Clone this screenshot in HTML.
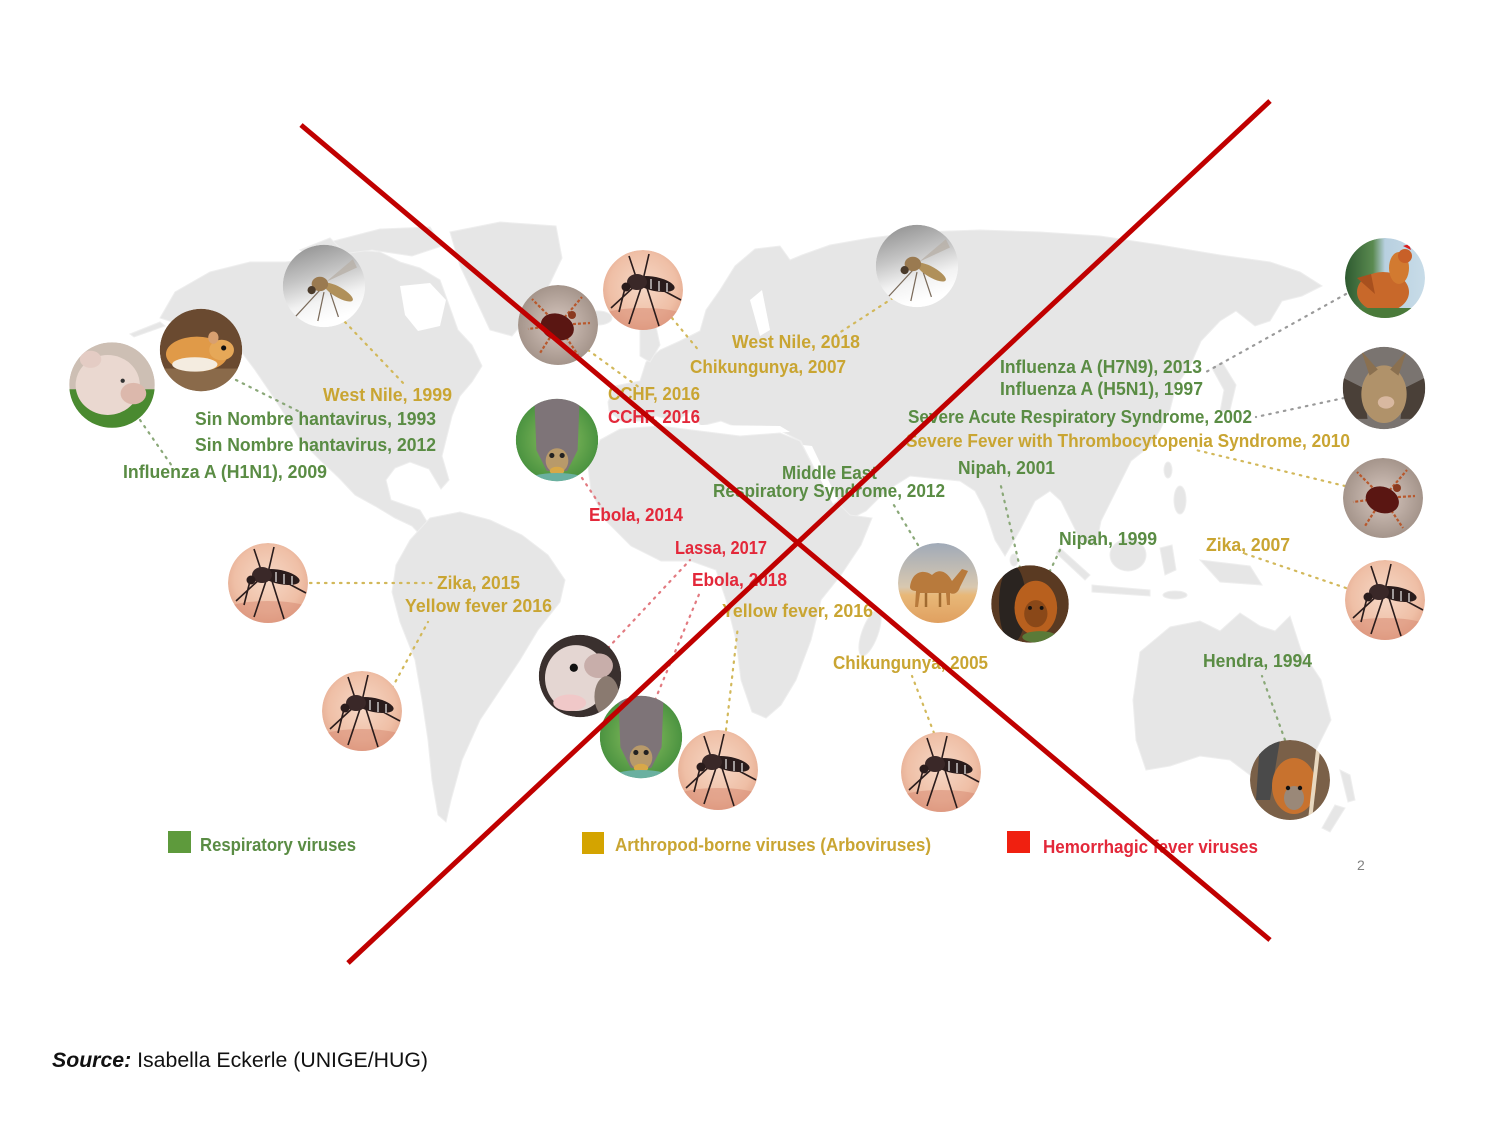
<!DOCTYPE html>
<html>
<head>
<meta charset="utf-8">
<style>
html,body{margin:0;padding:0;background:#fff;}
body{width:1500px;height:1125px;overflow:hidden;}
svg{display:block;}
.t{font-family:"Liberation Sans",sans-serif;font-weight:bold;font-size:18px;}
.g{fill:#5a8c44;}
.y{fill:#c9a532;}
.r{fill:#e3283a;}
.land{fill:#e6e6e6;stroke:#eeeeee;stroke-width:1;}
.dg{stroke:#8aa878;stroke-width:2.2;stroke-dasharray:1.5 6;stroke-linecap:round;fill:none;}
.dy{stroke:#d2b85a;stroke-width:2.2;stroke-dasharray:1.5 6;stroke-linecap:round;fill:none;}
.dr{stroke:#e27a80;stroke-width:2.2;stroke-dasharray:1.5 6;stroke-linecap:round;fill:none;}
.dk{stroke:#9a9a9a;stroke-width:2.2;stroke-dasharray:1.5 6;stroke-linecap:round;fill:none;}
</style>
</head>
<body>
<svg width="1500" height="1125" viewBox="0 0 1500 1125" xmlns="http://www.w3.org/2000/svg">
<defs>
  <clipPath id="c40" clipPathUnits="userSpaceOnUse"><circle cx="0" cy="0" r="40"/></clipPath>
  <radialGradient id="peach" cx="0.5" cy="0.45" r="0.6">
    <stop offset="0" stop-color="#f6d8c6"/>
    <stop offset="0.7" stop-color="#efbfa6"/>
    <stop offset="1" stop-color="#e2a48a"/>
  </radialGradient>
  <linearGradient id="greyTop" x1="0" y1="0" x2="0.3" y2="1">
    <stop offset="0" stop-color="#8a8a8a"/>
    <stop offset="0.45" stop-color="#c4c4c4"/>
    <stop offset="0.75" stop-color="#f2f2f2"/>
    <stop offset="1" stop-color="#ffffff"/>
  </linearGradient>
  <radialGradient id="tickbg" cx="0.5" cy="0.5" r="0.6">
    <stop offset="0" stop-color="#d8c8c0"/>
    <stop offset="1" stop-color="#9a8a80"/>
  </radialGradient>
  <radialGradient id="greenbg" cx="0.5" cy="0.5" r="0.6">
    <stop offset="0" stop-color="#8cc060"/>
    <stop offset="1" stop-color="#3e8a3a"/>
  </radialGradient>
  <linearGradient id="camelbg" x1="0" y1="0" x2="0" y2="1">
    <stop offset="0" stop-color="#a0aab8"/>
    <stop offset="0.55" stop-color="#d8c8b0"/>
    <stop offset="0.65" stop-color="#e8b878"/>
    <stop offset="1" stop-color="#e0a060"/>
  </linearGradient>
  <linearGradient id="chickbg" x1="0" y1="0" x2="1" y2="0">
    <stop offset="0" stop-color="#2e5a30"/>
    <stop offset="0.35" stop-color="#5a8a50"/>
    <stop offset="0.5" stop-color="#b8d0e0"/>
    <stop offset="1" stop-color="#c8dce8"/>
  </linearGradient>
  <g id="mosq">
    <circle r="40" fill="url(#peach)"/>
    <ellipse cx="0" cy="30" rx="48" ry="12" fill="#d88c74" opacity="0.55"/>
    <g stroke="#2a1c1c" stroke-width="1.6" fill="none">
      <line x1="-6" y1="-6" x2="-32" y2="18"/>
      <line x1="-2" y1="-2" x2="-14" y2="34"/>
      <line x1="4" y1="-2" x2="16" y2="36"/>
      <line x1="-6" y1="-10" x2="-14" y2="-34"/>
      <line x1="0" y1="-10" x2="6" y2="-36"/>
      <line x1="8" y1="-6" x2="38" y2="10"/>
      <line x1="-18" y1="-2" x2="-24" y2="22"/>
    </g>
    <ellipse cx="12" cy="-6" rx="20" ry="7" transform="rotate(12 12 -6)" fill="#2a1c1c"/>
    <ellipse cx="-6" cy="-8" rx="10" ry="8" fill="#3a2828"/>
    <circle cx="-17" cy="-3" r="4.5" fill="#2a1c1c"/>
    <g stroke="#eee" stroke-width="1.2"><line x1="8" y1="-11" x2="8" y2="-1"/><line x1="16" y1="-9" x2="16" y2="1"/><line x1="24" y1="-7" x2="24" y2="2"/></g>
  </g>
  <g id="gmosq">
    <circle r="40" fill="url(#greyTop)"/>
    <g stroke="#7a6a5a" stroke-width="1.2" fill="none">
      <line x1="-4" y1="4" x2="-28" y2="30"/>
      <line x1="0" y1="6" x2="-6" y2="34"/>
      <line x1="6" y1="6" x2="14" y2="30"/>
    </g>
    <path d="M2,-4 L28,-26 L32,-18 Z" fill="#b8b0a8" opacity="0.8"/>
    <ellipse cx="14" cy="6" rx="16" ry="5" transform="rotate(30 14 6)" fill="#b0905a"/>
    <ellipse cx="-4" cy="-2" rx="8" ry="7" fill="#9a7a50"/>
    <circle cx="-12" cy="4" r="4" fill="#4a3a2a"/>
  </g>
  <g id="tick">
    <circle r="40" fill="url(#tickbg)"/>
    <g stroke="#b8582c" stroke-width="2.2" stroke-dasharray="3 2">
      <line x1="0" y1="0" x2="-26" y2="-26"/>
      <line x1="0" y1="0" x2="-30" y2="4"/>
      <line x1="0" y1="0" x2="-18" y2="28"/>
      <line x1="0" y1="0" x2="24" y2="-28"/>
      <line x1="0" y1="0" x2="32" y2="-2"/>
      <line x1="0" y1="0" x2="20" y2="30"/>
    </g>
    <ellipse cx="0" cy="2" rx="17" ry="13" transform="rotate(20)" fill="#5a1612"/>
    <circle cx="14" cy="-10" r="4" fill="#8a3a20"/>
  </g>
  <g id="batg">
    <circle r="40" fill="url(#greenbg)"/>
    <path d="M-22,-40 L22,-40 L20,10 L10,30 L-10,30 L-20,10 Z" fill="#7e7478"/>
    <ellipse cx="0" cy="20" rx="11" ry="12" fill="#b89a6a"/>
    <ellipse cx="0" cy="30" rx="7" ry="4" fill="#d8a848"/>
    <circle cx="-5" cy="15" r="2.5" fill="#222"/><circle cx="5" cy="15" r="2.5" fill="#222"/>
    <ellipse cx="0" cy="40" rx="30" ry="8" fill="#6ab0a0"/>
  </g>
  <g id="fbat">
    <circle r="40" fill="#5a3a22"/>
    <ellipse cx="-18" cy="0" rx="14" ry="40" fill="#2a2420"/>
    <ellipse cx="6" cy="4" rx="22" ry="28" fill="#b8601e"/>
    <ellipse cx="6" cy="10" rx="12" ry="14" fill="#8a4818"/>
    <circle cx="0" cy="4" r="2" fill="#111"/><circle cx="12" cy="4" r="2" fill="#111"/>
    <ellipse cx="10" cy="34" rx="18" ry="6" fill="#5a7a38"/>
  </g>
</defs>

<!-- ===== WORLD MAP ===== -->
<g class="land">
  <path d="M160,318 L175,292 L210,272 L250,262 L285,262 L320,258 L350,250 L380,252 L400,262 L420,268 L440,280 L448,302 L458,330 L472,345 L482,366 L472,382 L460,396 L452,416 L446,440 L442,456 L449,480 L441,489 L429,469 L410,462 L395,468 L386,480 L391,500 L405,505 L420,510 L429,525 L436,536 L426,541 L412,526 L395,518 L375,506 L355,495 L339,478 L320,460 L300,440 L285,415 L270,392 L255,370 L240,350 L225,336 L205,331 L185,326 Z"/>
  <path d="M130,334 L160,322 L165,326 L134,337 Z"/>
  <path d="M330,242 L380,229 L430,227 L442,246 L412,256 L372,250 L342,254 Z"/>
  <path d="M300,250 L330,238 L340,248 L310,256 Z"/>
  <path d="M450,232 L500,222 L556,226 L562,258 L542,300 L512,336 L490,330 L476,300 L460,266 Z"/>
  <ellipse cx="598" cy="318" rx="14" ry="7"/>
  <path d="M430,518 L460,512 L490,520 L522,535 L548,555 L565,580 L560,602 L538,630 L520,660 L500,690 L480,720 L462,760 L451,800 L446,822 L438,815 L432,780 L428,740 L422,700 L415,660 L400,622 L392,592 L396,565 L410,540 Z"/>
  <path d="M608,402 L615,386 L640,381 L646,362 L660,350 L680,341 L700,331 L706,310 L720,290 L735,266 L755,249 L780,246 L790,260 L802,255 L830,245 L870,238 L920,232 L980,230 L1040,232 L1100,236 L1160,245 L1220,255 L1270,262 L1300,272 L1322,286 L1302,296 L1282,301 L1270,321 L1255,326 L1236,311 L1220,321 L1201,341 L1190,366 L1176,386 L1170,410 L1160,430 L1150,446 L1131,461 L1121,481 L1111,501 L1101,521 L1096,546 L1081,541 L1071,521 L1061,501 L1050,491 L1035,501 L1020,530 L1005,556 L995,540 L985,510 L975,491 L960,481 L940,479 L910,476 L886,491 L866,511 L846,521 L826,491 L811,461 L801,441 L781,431 L761,426 L741,429 L721,421 L701,426 L691,411 L676,421 L656,416 L640,421 L621,421 L609,411 Z"/>
  <path d="M640,330 L655,322 L660,345 L650,362 L640,356 Z"/>
  <path d="M1212,368 L1222,362 L1236,385 L1230,410 L1220,412 L1224,390 Z"/>
  <ellipse cx="1014" cy="560" rx="4" ry="6"/>
  <ellipse cx="1168" cy="470" rx="4" ry="8"/>
  <ellipse cx="1180" cy="500" rx="6" ry="14"/>
  <path d="M600,440 L620,429 L660,426 L700,431 L740,436 L780,433 L800,441 L815,470 L830,495 L850,515 L872,518 L861,545 L841,575 L821,600 L811,640 L796,680 L781,705 L766,718 L752,712 L741,680 L736,640 L726,600 L716,570 L691,561 L661,561 L631,546 L606,521 L591,491 L588,466 Z"/>
  <ellipse cx="870" cy="633" rx="8" ry="24" transform="rotate(20 870 633)"/>
  <path d="M1060,548 L1090,575 L1085,580 L1056,553 Z"/>
  <path d="M1092,585 L1150,590 L1150,596 L1092,592 Z"/>
  <ellipse cx="1128" cy="555" rx="18" ry="16"/>
  <path d="M1160,548 L1172,545 L1176,570 L1165,575 Z"/>
  <path d="M1200,560 L1250,566 L1262,585 L1220,582 Z"/>
  <ellipse cx="1175" cy="595" rx="12" ry="4"/>
  <path d="M1140,652 L1170,627 L1200,621 L1220,631 L1240,613 L1260,626 L1275,631 L1290,616 L1301,650 L1321,680 L1331,720 L1311,760 L1286,780 L1250,775 L1230,760 L1200,756 L1170,766 L1146,770 L1136,740 L1133,700 Z"/>
  <ellipse cx="1287" cy="798" rx="9" ry="7"/>
  <path d="M1340,770 L1350,775 L1355,800 L1348,802 Z"/>
  <path d="M1335,805 L1345,808 L1330,832 L1322,828 Z"/>
</g>
<g fill="#ffffff">
  <path d="M400,286 L430,283 L446,300 L440,326 L418,331 L405,315 Z"/>
  <path d="M630,424 L780,426 L790,432 L740,434 L700,428 L660,424 Z"/>
  <path d="M803,445 L812,446 L838,500 L833,504 Z"/>
  <path d="M750,300 L762,290 L770,330 L760,336 Z"/>
</g>

<!-- ===== DOTTED CONNECTORS ===== -->
<path class="dy" d="M345,322 L405,385"/>
<path class="dg" d="M236,380 L300,412"/>
<path class="dg" d="M140,420 L172,466"/>
<path class="dy" d="M588,350 L640,388"/>
<path class="dy" d="M672,318 L700,352"/>
<path class="dy" d="M893,298 L836,335"/>
<path class="dk" d="M1346,294 L1206,372"/>
<path class="dk" d="M1344,398 L1256,417"/>
<path class="dy" d="M1345,486 L1196,450"/>
<path class="dy" d="M1346,588 L1240,552"/>
<path class="dy" d="M310,583 L432,583"/>
<path class="dy" d="M392,688 L428,622"/>
<path class="dr" d="M608,648 L690,560"/>
<path class="dr" d="M655,700 L700,592"/>
<path class="dy" d="M726,730 L738,626"/>
<path class="dr" d="M582,478 L600,505"/>
<path class="dg" d="M918,545 L892,502"/>
<path class="dg" d="M1020,568 L1000,482"/>
<path class="dy" d="M934,733 L912,676"/>
<path class="dg" d="M1285,740 L1262,676"/>
<path class="dg" d="M1060,550 L1048,575"/>

<!-- ===== PHOTO CIRCLES ===== -->
<g transform="translate(112,385) scale(1.07)" clip-path="url(#c40)">
  <circle r="40" fill="#cdbfb4"/>
  <rect x="-40" y="4" width="80" height="40" fill="#4a8a30"/>
  <ellipse cx="-4" cy="0" rx="30" ry="28" fill="#ead8d0"/>
  <ellipse cx="20" cy="8" rx="12" ry="10" fill="#dcb8ac"/>
  <circle cx="10" cy="-4" r="2" fill="#333"/>
  <ellipse cx="-20" cy="-24" rx="10" ry="8" fill="#e4ccc4"/>
</g>
<g transform="translate(201,350) scale(1.03)" clip-path="url(#c40)">
  <circle r="40" fill="#6a4a30"/>
  <rect x="-40" y="18" width="80" height="30" fill="#8a6a4a"/>
  <ellipse cx="-4" cy="4" rx="30" ry="17" fill="#e09a48"/>
  <ellipse cx="-6" cy="14" rx="22" ry="7" fill="#f4ece0"/>
  <ellipse cx="20" cy="0" rx="12" ry="10" fill="#e6a858"/>
  <circle cx="22" cy="-2" r="2.5" fill="#111"/>
  <ellipse cx="12" cy="-12" rx="5" ry="6" fill="#d8a070"/>
</g>
<g transform="translate(324,286) scale(1.03)" clip-path="url(#c40)"><use href="#gmosq"/></g>
<g transform="translate(558,325)" clip-path="url(#c40)"><use href="#tick"/></g>
<g transform="translate(643,290)" clip-path="url(#c40)"><use href="#mosq"/></g>
<g transform="translate(557,440) scale(1.03)" clip-path="url(#c40)"><use href="#batg"/></g>
<g transform="translate(917,266) scale(1.03)" clip-path="url(#c40)"><use href="#gmosq"/></g>
<g transform="translate(1385,278)" clip-path="url(#c40)">
  <circle r="40" fill="url(#chickbg)"/>
  <ellipse cx="-2" cy="14" rx="26" ry="20" fill="#c8682a"/>
  <ellipse cx="14" cy="-10" rx="10" ry="16" fill="#d27a30"/>
  <circle cx="20" cy="-22" r="7" fill="#c86028"/>
  <path d="M18,-32 L24,-34 L26,-28 Z" fill="#d82020"/>
  <path d="M-28,0 L-14,-4 L-10,16 Z" fill="#a8501e"/>
  <rect x="-40" y="30" width="80" height="12" fill="#4a7a3a"/>
</g>
<g transform="translate(1384,388) scale(1.03)" clip-path="url(#c40)">
  <circle r="40" fill="#7a7470"/>
  <path d="M-40,-10 L-20,0 L-16,30 L-40,30 Z" fill="#4a4038"/>
  <path d="M40,-10 L20,0 L16,30 L40,30 Z" fill="#4a4038"/>
  <ellipse cx="0" cy="6" rx="22" ry="28" fill="#b0926a"/>
  <path d="M-14,-12 L-22,-36 L-6,-18 Z" fill="#8a7050"/>
  <path d="M14,-12 L22,-36 L6,-18 Z" fill="#8a7050"/>
  <ellipse cx="2" cy="14" rx="8" ry="6" fill="#d8b8a0"/>
</g>
<g transform="translate(1383,498)" clip-path="url(#c40)"><use href="#tick"/></g>
<g transform="translate(1385,600)" clip-path="url(#c40)"><use href="#mosq"/></g>
<g transform="translate(268,583)" clip-path="url(#c40)"><use href="#mosq"/></g>
<g transform="translate(362,711)" clip-path="url(#c40)"><use href="#mosq"/></g>
<g transform="translate(580,676) scale(1.03)" clip-path="url(#c40)">
  <circle r="40" fill="#3a302e"/>
  <ellipse cx="-4" cy="2" rx="30" ry="32" fill="#e4d6d2"/>
  <ellipse cx="18" cy="-10" rx="14" ry="12" fill="#c8aeaa"/>
  <circle cx="-6" cy="-8" r="4" fill="#111"/>
  <ellipse cx="-10" cy="26" rx="16" ry="8" fill="#f0c8c8"/>
  <ellipse cx="26" cy="20" rx="12" ry="20" fill="#8a7a70"/>
</g>
<g transform="translate(641,737) scale(1.03)" clip-path="url(#c40)"><use href="#batg"/></g>
<g transform="translate(718,770)" clip-path="url(#c40)"><use href="#mosq"/></g>
<g transform="translate(938,583)" clip-path="url(#c40)">
  <circle r="40" fill="url(#camelbg)"/>
  <path d="M-28,4 C-26,-12 -14,-14 -6,-8 C2,-16 10,-10 14,-2 L24,-14 L30,-12 L22,4 C20,10 16,12 12,10 L12,22 L9,22 L8,10 L-18,10 L-20,24 L-23,24 L-22,8 C-26,8 -28,6 -28,4 Z" fill="#b87a3c"/>
  <line x1="-12" y1="10" x2="-12" y2="24" stroke="#a06a30" stroke-width="2.5"/>
  <line x1="2" y1="10" x2="2" y2="24" stroke="#a06a30" stroke-width="2.5"/>
</g>
<g transform="translate(1030,604) scale(0.97)" clip-path="url(#c40)"><use href="#fbat"/></g>
<g transform="translate(941,772)" clip-path="url(#c40)"><use href="#mosq"/></g>
<g transform="translate(1290,780)" clip-path="url(#c40)">
  <circle r="40" fill="#7a6048"/>
  <path d="M-30,-40 L-10,-40 L-20,20 L-34,20 Z" fill="#4a4a4a"/>
  <ellipse cx="4" cy="6" rx="22" ry="28" fill="#c8722e"/>
  <ellipse cx="4" cy="18" rx="10" ry="12" fill="#9a8878"/>
  <circle cx="-2" cy="8" r="2.2" fill="#111"/><circle cx="10" cy="8" r="2.2" fill="#111"/>
  <line x1="28" y1="-30" x2="20" y2="40" stroke="#e8d8c0" stroke-width="4"/>
</g>

<!-- ===== LABELS ===== -->
<g class="t">
  <text class="y" x="323" y="401" textLength="129" lengthAdjust="spacingAndGlyphs">West Nile, 1999</text>
  <text class="g" x="195" y="425" textLength="241" lengthAdjust="spacingAndGlyphs">Sin  Nombre hantavirus, 1993</text>
  <text class="g" x="195" y="451" textLength="241" lengthAdjust="spacingAndGlyphs">Sin  Nombre hantavirus, 2012</text>
  <text class="g" x="123" y="478" textLength="204" lengthAdjust="spacingAndGlyphs">Influenza A (H1N1), 2009</text>
  <text class="y" x="732" y="348" textLength="128" lengthAdjust="spacingAndGlyphs">West Nile, 2018</text>
  <text class="y" x="690" y="373" textLength="156" lengthAdjust="spacingAndGlyphs">Chikungunya, 2007</text>
  <text class="y" x="608" y="400" textLength="92" lengthAdjust="spacingAndGlyphs">CCHF, 2016</text>
  <text class="r" x="608" y="423" textLength="92" lengthAdjust="spacingAndGlyphs">CCHF, 2016</text>
  <text class="g" x="1000" y="373" textLength="202" lengthAdjust="spacingAndGlyphs">Influenza A (H7N9), 2013</text>
  <text class="g" x="1000" y="395" textLength="203" lengthAdjust="spacingAndGlyphs">Influenza A (H5N1), 1997</text>
  <text class="g" x="908" y="423" textLength="344" lengthAdjust="spacingAndGlyphs">Severe Acute Respiratory Syndrome, 2002</text>
  <text class="y" x="906" y="447" textLength="444" lengthAdjust="spacingAndGlyphs">Severe Fever with Thrombocytopenia Syndrome, 2010</text>
  <text class="g" x="958" y="474" textLength="97" lengthAdjust="spacingAndGlyphs">Nipah, 2001</text>
  <text class="g" x="782" y="479" textLength="95" lengthAdjust="spacingAndGlyphs">Middle East</text>
  <text class="g" x="713" y="497" textLength="232" lengthAdjust="spacingAndGlyphs">Respiratory Syndrome, 2012</text>
  <text class="r" x="589" y="521" textLength="94" lengthAdjust="spacingAndGlyphs">Ebola, 2014</text>
  <text class="r" x="675" y="554" textLength="92" lengthAdjust="spacingAndGlyphs">Lassa, 2017</text>
  <text class="r" x="692" y="586" textLength="95" lengthAdjust="spacingAndGlyphs">Ebola, 2018</text>
  <text class="y" x="722" y="617" textLength="151" lengthAdjust="spacingAndGlyphs">Yellow fever, 2016</text>
  <text class="y" x="437" y="589" textLength="83" lengthAdjust="spacingAndGlyphs">Zika, 2015</text>
  <text class="y" x="405" y="612" textLength="147" lengthAdjust="spacingAndGlyphs">Yellow fever 2016</text>
  <text class="g" x="1059" y="545" textLength="98" lengthAdjust="spacingAndGlyphs">Nipah, 1999</text>
  <text class="y" x="1206" y="551" textLength="84" lengthAdjust="spacingAndGlyphs">Zika, 2007</text>
  <text class="y" x="833" y="669" textLength="155" lengthAdjust="spacingAndGlyphs">Chikungunya, 2005</text>
  <text class="g" x="1203" y="667" textLength="109" lengthAdjust="spacingAndGlyphs">Hendra, 1994</text>
</g>

<!-- ===== LEGEND ===== -->
<rect x="168" y="831" width="23" height="22" fill="#5e9a3c"/>
<text class="t g" x="200" y="851" textLength="156" lengthAdjust="spacingAndGlyphs">Respiratory viruses</text>
<rect x="582" y="832" width="22" height="22" fill="#d4a400"/>
<text class="t y" x="615" y="851" textLength="316" lengthAdjust="spacingAndGlyphs">Arthropod-borne viruses (Arboviruses)</text>
<rect x="1007" y="831" width="23" height="22" fill="#f02010"/>
<text class="t r" x="1043" y="853" textLength="215" lengthAdjust="spacingAndGlyphs">Hemorrhagic fever viruses</text>
<text x="1357" y="870" font-family="Liberation Sans, sans-serif" font-size="14" fill="#808080">2</text>

<!-- ===== RED X ===== -->
<line x1="301" y1="125" x2="1270" y2="940" stroke="#c00000" stroke-width="5"/>
<line x1="348" y1="963" x2="1270" y2="101" stroke="#c00000" stroke-width="5"/>

<!-- ===== SOURCE ===== -->
<text x="52" y="1067" font-family="Liberation Sans, sans-serif" font-size="21" fill="#111" textLength="376" lengthAdjust="spacingAndGlyphs"><tspan font-weight="bold" font-style="italic">Source:</tspan> Isabella Eckerle (UNIGE/HUG)</text>
</svg>
</body>
</html>
